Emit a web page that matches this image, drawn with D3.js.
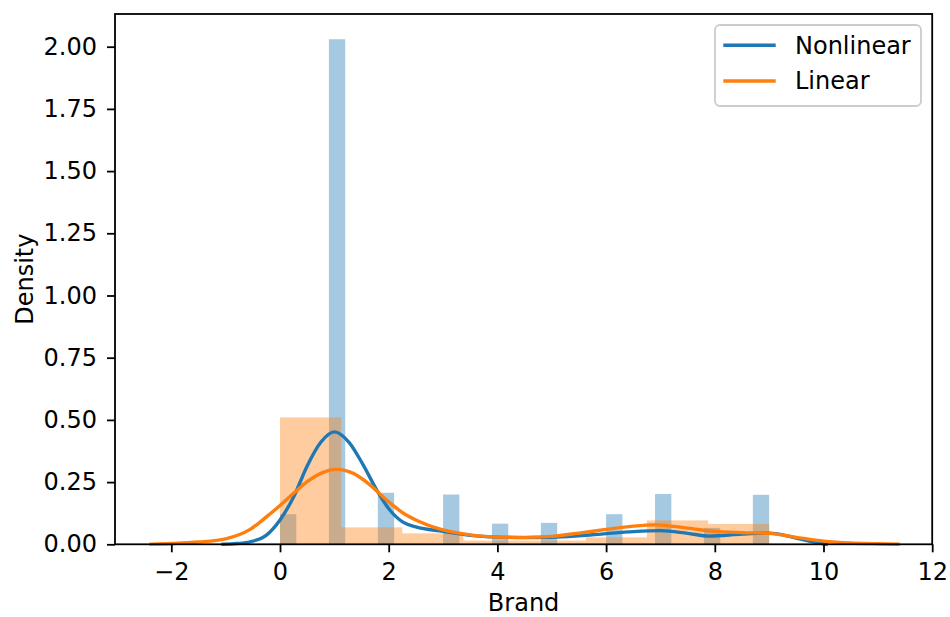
<!DOCTYPE html>
<html>
<head>
<meta charset="utf-8">
<script src="https://cdn.jsdelivr.net/npm/d3@7/dist/d3.min.js"></script>
<style>
  html, body { margin: 0; padding: 0; background: #ffffff; }
  svg { display: block; font-family: "DejaVu Sans", sans-serif; }
</style>
</head>
<body>
<svg id="chart" width="950" height="617"></svg>
<script>
// Histogram bin edges and densities for the "Nonlinear" group (30 bins over 0..9)
const nonlinearEdges = [0, 0.3, 0.6, 0.9, 1.2, 1.5, 1.8, 2.1, 2.4, 2.7, 3.0, 3.3, 3.6, 3.9, 4.2, 4.5,
  4.8, 5.1, 5.4, 5.7, 6.0, 6.3, 6.6, 6.9, 7.2, 7.5, 7.8, 8.1, 8.4, 8.7, 9.0];
const nonlinearDensity = [0.121, 0, 0, 2.03, 0, 0, 0.207, 0, 0, 0, 0.200, 0, 0, 0.083, 0, 0,
  0.086, 0, 0, 0, 0.121, 0, 0, 0.202, 0, 0, 0.066, 0, 0, 0.199];

// Histogram bin edges and densities for the "Linear" group (8 bins over 0..9)
const linearEdges = [0, 1.125, 2.25, 3.375, 4.5, 5.625, 6.75, 7.875, 9.0];
const linearDensity = [0.510, 0.068, 0.044, 0.015, 0.015, 0.028, 0.096, 0.082];

// Kernel density estimates, sampled along Brand
const nonlinearKdeX = [-1.05, -0.8, -0.55, -0.25, 0, 0.25, 0.5, 0.75, 1.0, 1.27, 1.53, 1.78, 2.02, 2.27,
  2.5, 3.0, 3.5, 4.0, 4.5, 5.0, 5.5, 6.0, 6.5, 7.0, 7.5, 7.9, 8.5, 9.0, 9.5, 9.8, 10.05];
const nonlinearKdeY = [0.0, 0.003, 0.01, 0.037, 0.098, 0.19, 0.315, 0.41, 0.452, 0.41, 0.319, 0.218, 0.138, 0.088,
  0.07, 0.052, 0.036, 0.029, 0.027, 0.028, 0.034, 0.043, 0.051, 0.055, 0.044, 0.033, 0.041, 0.045, 0.025, 0.01, 0.0];

const linearKdeX = [-2.37, -2.0, -1.5, -1.0, -0.55, -0.25, 0, 0.25, 0.5, 0.75, 1.03, 1.35, 1.66, 1.96, 2.27,
  2.5, 3.0, 3.5, 4.0, 4.5, 5.0, 5.5, 6.0, 6.5, 6.9, 7.5, 8.0, 8.5, 9.0, 9.5, 10.0, 10.5, 11.0, 11.37];
const linearKdeY = [0.0005, 0.003, 0.009, 0.022, 0.06, 0.11, 0.156, 0.205, 0.252, 0.285, 0.301, 0.285, 0.238, 0.178, 0.125,
  0.098, 0.058, 0.038, 0.029, 0.028, 0.032, 0.045, 0.060, 0.073, 0.078, 0.065, 0.052, 0.047, 0.044, 0.028, 0.013, 0.005, 0.002, 0.0005];

// Axis ticks and labels
const xTicks = [-2, 0, 2, 4, 6, 8, 10, 12];
const yTicks = [0, 0.25, 0.5, 0.75, 1.0, 1.25, 1.5, 1.75, 2.0];
const seriesNames = ["Nonlinear", "Linear"];
const seriesColors = ["#1f77b4", "#ff7f0e"];

const svg = d3.select("#chart");
const FONT = 24;

const plot = { left: 115, right: 932.2, top: 14, bottom: 544.3 };
const x = d3.scaleLinear().domain([-3.036, 12.0]).range([plot.left, plot.right]);
const y = d3.scaleLinear().domain([0, 2.1314]).range([plot.bottom, plot.top]);

// Histogram bars (patches sit below the lines)
function drawHist(edges, dens, color) {
  const bins = dens.map((d, i) => ({ x0: edges[i], x1: edges[i + 1], d }));
  svg.append("g")
    .selectAll("rect")
    .data(bins.filter(b => b.d > 0))
    .join("rect")
    .attr("x", b => x(b.x0))
    .attr("width", b => x(b.x1) - x(b.x0))
    .attr("y", b => y(b.d))
    .attr("height", b => y(0) - y(b.d))
    .attr("fill", color)
    .attr("fill-opacity", 0.4);
}
drawHist(nonlinearEdges, nonlinearDensity, seriesColors[0]);
drawHist(linearEdges, linearDensity, seriesColors[1]);

// KDE curves
const line = d3.line()
  .x(d => x(d[0]))
  .y(d => y(d[1]))
  .curve(d3.curveMonotoneX);

function drawKde(xs, ys, color) {
  svg.append("path")
    .datum(xs.map((v, i) => [v, ys[i]]))
    .attr("d", line)
    .attr("fill", "none")
    .attr("stroke", color)
    .attr("stroke-width", 3.4)
    .attr("stroke-linejoin", "round")
    .attr("stroke-linecap", "square");
}
drawKde(nonlinearKdeX, nonlinearKdeY, seriesColors[0]);
drawKde(linearKdeX, linearKdeY, seriesColors[1]);

// Axes
const fmtX = d => (d < 0 ? "\u2212" + Math.abs(d) : String(d));
const xAxis = svg.append("g")
  .attr("transform", `translate(0,${plot.bottom})`)
  .call(d3.axisBottom(x).tickValues(xTicks).tickFormat(fmtX).tickSize(8).tickPadding(11));
const yAxis = svg.append("g")
  .attr("transform", `translate(${plot.left},0)`)
  .call(d3.axisLeft(y).tickValues(yTicks).tickFormat(d3.format(".2f")).tickSize(8).tickPadding(10));

[xAxis, yAxis].forEach(g => {
  g.select(".domain").remove();
  g.selectAll(".tick line").attr("stroke", "#000").attr("stroke-width", 1.8);
  g.selectAll(".tick text")
    .attr("fill", "#000")
    .style("font-size", FONT + "px")
    .style("font-family", "'DejaVu Sans', sans-serif");
});

// Frame
svg.append("rect")
  .attr("x", plot.left)
  .attr("y", plot.top)
  .attr("width", plot.right - plot.left)
  .attr("height", plot.bottom - plot.top)
  .attr("fill", "none")
  .attr("stroke", "#000")
  .attr("stroke-width", 1.8);

// Axis titles
svg.append("text")
  .attr("x", (plot.left + plot.right) / 2)
  .attr("y", 610.5)
  .attr("text-anchor", "middle")
  .style("font-size", FONT + "px")
  .text("Brand");

svg.append("text")
  .attr("transform", `translate(33,${(plot.top + plot.bottom) / 2}) rotate(-90)`)
  .attr("text-anchor", "middle")
  .style("font-size", FONT + "px")
  .text("Density");

// Legend
const legend = svg.append("g");
legend.append("rect")
  .attr("x", 715).attr("y", 25)
  .attr("width", 206).attr("height", 81)
  .attr("rx", 5)
  .attr("fill", "#fff").attr("fill-opacity", 0.8)
  .attr("stroke", "#cccccc").attr("stroke-width", 1.8);

seriesNames.forEach((name, i) => {
  const ly = 45.3 + i * 35.7;
  legend.append("line")
    .attr("x1", 723.3).attr("x2", 775.7)
    .attr("y1", ly).attr("y2", ly)
    .attr("stroke", seriesColors[i])
    .attr("stroke-width", 3.4);
  legend.append("text")
    .attr("x", 795)
    .attr("y", ly)
    .attr("dy", "0.35em")
    .style("font-size", FONT + "px")
    .attr("fill", "#000")
    .text(name);
});
</script>
</body>
</html>
